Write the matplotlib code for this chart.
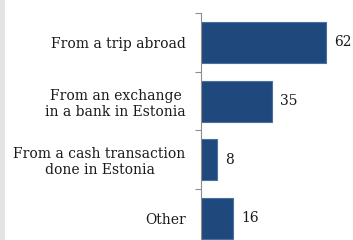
import matplotlib

matplotlib.use("Agg")
import matplotlib.pyplot as plt
from matplotlib.patches import Rectangle

# Datos
categorias = [
    "From a trip abroad",
    "From an exchange\nin a bank in Estonia",
    "From a cash transaction\ndone in Estonia",
    "Other",
]
valores = [62, 35, 8, 16]

COLOR_BARRA = "#1F497D"
COLOR_BORDE = "#4A6FA0"
COLOR_EJE = "#8C8C8C"

plt.rcParams["font.family"] = ["DejaVu Serif"]

fig = plt.figure(figsize=(3.53, 2.40), dpi=100)
fig.patches.append(Rectangle((0, 0), 5 / 353, 1, transform=fig.transFigure,
                             facecolor="#E3E3E3", edgecolor="none", zorder=0))

# el eje se sale por abajo: la última barra queda recortada como en el original
ax = fig.add_axes([201 / 353, -7.8 / 240, 149 / 353, 234.8 / 240])
ax.set_facecolor("none")

pos = list(range(len(categorias)))
ax.barh(pos, valores, height=0.70, color=COLOR_BARRA, edgecolor=COLOR_BORDE, linewidth=0.8)
for y, v in zip(pos, valores):
    ax.text(v + 4, y, str(v), va="center", ha="left", fontsize=10, color="#1a1a1a")

ax.set_xlim(0, 149 / 2.02)
ax.set_ylim(len(categorias) - 0.5, -0.5)

ax.set_yticks([p - 0.5 for p in pos] + [len(categorias) - 0.5])
ax.set_yticklabels([])
ax.set_yticks(pos, minor=True)
ax.set_yticklabels(categorias, minor=True, fontsize=10, color="#1a1a1a",
                   ha="right", multialignment="center")
ax.tick_params(axis="y", which="major", length=4, width=0.8, color=COLOR_EJE, direction="out")
ax.tick_params(axis="y", which="minor", length=0, pad=11)
ax.set_xticks([])

for lado in ["top", "right", "bottom"]:
    ax.spines[lado].set_visible(False)
ax.spines["left"].set_color(COLOR_EJE)
ax.spines["left"].set_linewidth(0.8)

fig.savefig("out.png", dpi=100)
